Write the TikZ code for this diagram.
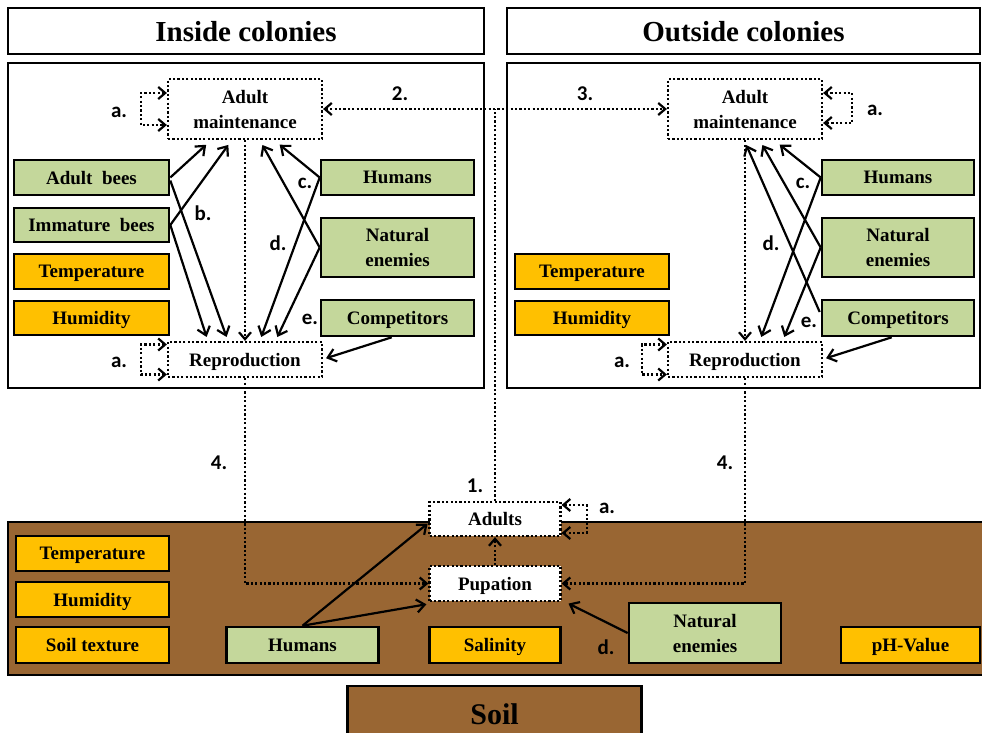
\documentclass[tikz,border=0pt]{standalone}
\usepackage{fontspec}
\setmainfont{Liberation Serif}
\newfontfamily\labfont{Carlito}
\usetikzlibrary{arrows.meta,calc}
\definecolor{soilbrown}{RGB}{153,102,51}
\definecolor{leaf}{RGB}{196,215,155}
\definecolor{amber}{RGB}{255,192,0}
\begin{document}
\begin{tikzpicture}[x=1pt,y=-1pt,
  txt/.style={font=\fontsize{19}{25}\selectfont\bfseries, align=center, inner sep=0pt, text depth=0pt},
  gbox/.style={txt, draw=black, line width=2.6pt, fill=leaf},
  obox/.style={txt, draw=black, line width=2.6pt, fill=amber},
  dbox/.style={txt, draw=black, line width=2.2pt, dash pattern=on 2.2pt off 2.2pt, fill=white},
  tbox/.style={draw=black, line width=2.2pt, fill=white, inner sep=0pt, text depth=0pt, font=\fontsize{29}{34}\selectfont\bfseries},
  panel/.style={draw=black, line width=2.4pt},
  arr/.style={line width=2.2pt, -{Straight Barb[length=8pt,width=13pt]}, shorten >=1pt},
  dotl/.style={line width=2.2pt, dash pattern=on 2.2pt off 2.2pt},
  dotarr/.style={dotl, -{Straight Barb[length=7pt,width=12pt]}},
  dotboth/.style={dotl, {Straight Barb[length=7pt,width=12pt]}-{Straight Barb[length=7pt,width=12pt]}},
  lab/.style={font=\labfont\fontsize{21}{24}\selectfont\bfseries, inner sep=0pt}
]
\useasboundingbox (0,0) rectangle (982,732);
\fill[white] (0,0) rectangle (982,732);

% soil band
\filldraw[fill=soilbrown, draw=black, line width=2.4pt] (8,522) rectangle (990,675);
% panels
\draw[panel] (8,63) rectangle (484,388);
\draw[panel] (507,63) rectangle (980,388);

% titles
\node[tbox, minimum width=476pt, minimum height=46pt] (tin) at (246,31) {Inside colonies};
\node[tbox, minimum width=473pt, minimum height=46pt] (tout) at (743.5,31) {Outside colonies};

% left panel nodes
\node[dbox, minimum width=154pt, minimum height=60pt] (am1) at (245,109) {Adult\\maintenance};
\node[dbox, minimum width=154pt, minimum height=35pt] (rep1) at (245,359.5) {Reproduction};
\node[gbox, minimum width=155pt, minimum height=35pt] (ab1) at (91.5,177.5) {Adult\ \ bees};
\node[gbox, minimum width=155pt, minimum height=34pt] (ib1) at (91.5,225) {Immature\ \ bees};
\node[obox, minimum width=155pt, minimum height=35pt] (t1) at (91.5,271.5) {Temperature};
\node[obox, minimum width=155pt, minimum height=34pt] (h1) at (91.5,318) {Humidity};
\node[gbox, minimum width=153pt, minimum height=35pt] (hu1) at (397.5,177.5) {Humans};
\node[gbox, minimum width=153pt, minimum height=59pt] (ne1) at (397.5,247.5) {Natural\\enemies};
\node[gbox, minimum width=153pt, minimum height=36pt] (co1) at (397.5,318) {Competitors};

% right panel nodes
\node[dbox, minimum width=154pt, minimum height=60pt] (am2) at (745,109) {Adult\\maintenance};
\node[dbox, minimum width=154pt, minimum height=35pt] (rep2) at (745,359.5) {Reproduction};
\node[obox, minimum width=154pt, minimum height=35pt] (t2) at (592,271.5) {Temperature};
\node[obox, minimum width=154pt, minimum height=34pt] (h2) at (592,318) {Humidity};
\node[gbox, minimum width=152pt, minimum height=35pt] (hu2) at (898,177.5) {Humans};
\node[gbox, minimum width=152pt, minimum height=59pt] (ne2) at (898,247.5) {Natural\\enemies};
\node[gbox, minimum width=152pt, minimum height=36pt] (co2) at (898,318) {Competitors};

% soil nodes
\node[dbox, minimum width=131pt, minimum height=34pt] (adults) at (495,519) {Adults};
\node[dbox, minimum width=131pt, minimum height=35pt] (pup) at (495,583.5) {Pupation};
\node[obox, minimum width=153pt, minimum height=35pt] (st) at (92.5,553.5) {Temperature};
\node[obox, minimum width=153pt, minimum height=35pt] (sh) at (92.5,599.5) {Humidity};
\node[obox, minimum width=153pt, minimum height=36pt] (stx) at (92.5,645) {Soil texture};
\node[gbox, minimum width=152pt, minimum height=36pt] (shu) at (302.5,645) {Humans};
\node[obox, minimum width=131pt, minimum height=36pt] (sal) at (495,645) {Salinity};
\node[gbox, minimum width=152pt, minimum height=60pt] (sne) at (705,633) {Natural\\enemies};
\node[obox, minimum width=139pt, minimum height=36pt] (ph) at (910.5,645) {pH-Value};
\node[draw=black, line width=2.4pt, fill=soilbrown, minimum width=294pt, minimum height=56pt, inner sep=0pt,
      text depth=0pt, font=\fontsize{30}{34}\selectfont\bfseries] (soil) at (494.5,714) {Soil};

% left panel arrows
\draw[arr] (ab1.east) -- ([xshift=40pt,yshift=-4pt]am1.south west);
\draw[arr] ([yshift=-3pt]ab1.east) -- ([xshift=60pt,yshift=3pt]rep1.north west);
\draw[arr] (ib1.east) -- ([xshift=62pt,yshift=-4pt]am1.south west);
\draw[arr] (ib1.east) -- ([xshift=40pt,yshift=3pt]rep1.north west);
\draw[dotarr] (am1.south) -- (rep1.north);
\draw[arr] (hu1.west) -- ([xshift=112pt,yshift=-4pt]am1.south west);
\draw[arr] (hu1.west) -- ([xshift=94pt,yshift=3pt]rep1.north west);
\draw[arr] (ne1.west) -- ([xshift=95pt,yshift=-4pt]am1.south west);
\draw[arr] (ne1.west) -- ([xshift=110pt,yshift=3pt]rep1.north west);
\draw[arr] ([xshift=72pt]co1.south west) -- ([xshift=2pt,yshift=1pt]rep1.east);

% right panel arrows
\draw[arr] (hu2.west) -- ([xshift=112pt,yshift=-4pt]am2.south west);
\draw[arr] (hu2.west) -- ([xshift=94pt,yshift=3pt]rep2.north west);
\draw[arr] (ne2.west) -- ([xshift=95pt,yshift=-4pt]am2.south west);
\draw[arr] (ne2.west) -- ([xshift=117pt,yshift=3pt]rep2.north west);
\draw[arr] ([xshift=-1pt,yshift=6pt]co2.west) -- ([xshift=79pt,yshift=-4pt]am2.south west);
\draw[arr] ([xshift=71pt]co2.south west) -- ([xshift=2pt,yshift=1pt]rep2.east);
\draw[dotarr] (am2.south) -- (rep2.north);

% self loops
\draw[dotboth] ([yshift=16pt]am1.west) -- ++(-26,0) -- ++(0,32) -- ([yshift=-16pt]am1.west);
\draw[dotboth] ([yshift=15pt]rep1.west) -- ++(-26,0) -- ++(0,30) -- ([yshift=-15pt]rep1.west);
\draw[dotboth] ([yshift=16pt]am2.east) -- ++(29,0) -- ++(0,30) -- ([yshift=-14pt]am2.east);
\draw[dotboth] ([yshift=15pt]rep2.west) -- ++(-25,0) -- ++(0,30) -- ([yshift=-15pt]rep2.west);
\draw[dotboth] ([yshift=14pt]adults.east) -- ++(25,0) -- ++(0,28) -- ([yshift=-14pt]adults.east);

% connections between compartments
\coordinate (junc) at (adults.north |- am1.east);
\draw[dotboth] (am1.east) -- (am2.west);
\draw[dotl] (adults.north) -- (junc);
\draw[dotarr] (rep1.south) |- (pup.west);
\draw[dotarr] (rep2.south) |- (pup.east);
\draw[dotarr] (pup.north) -- (adults.south);

% soil arrows
\draw[arr] (shu.north) -- ([yshift=-4pt]adults.west);
\draw[arr] (shu.north) -- ([xshift=-1pt,yshift=-2pt]pup.south west);
\draw[arr] (sne.west) -- ([xshift=6pt,yshift=-1pt]pup.south east);

% labels
\node[lab] (la1) at (119,112) {a.};
\node[lab] (la2) at (119,362) {a.};
\node[lab] (la3) at (622,362) {a.};
\node[lab] (la4) at (875,110) {a.};
\node[lab] (la5) at (607,508) {a.};
\node[lab] (l2) at (400,94) {2.};
\node[lab] (l3) at (585,94) {3.};
\node[lab] (l1) at (475,486) {1.};
\node[lab] (l4a) at (219,463) {4.};
\node[lab] (l4b) at (725,463) {4.};
\node[lab] (lb) at (203,213) {b.};
\node[lab] (lc1) at (305,183) {c.};
\node[lab] (ld1) at (278,243) {d.};
\node[lab] (le1) at (310,319) {e.};
\node[lab] (lc2) at (803,183) {c.};
\node[lab] (ld2) at (771,243) {d.};
\node[lab] (le2) at (809,322) {e.};
\node[lab] (ld3) at (606,647) {d.};
\end{tikzpicture}
\end{document}
